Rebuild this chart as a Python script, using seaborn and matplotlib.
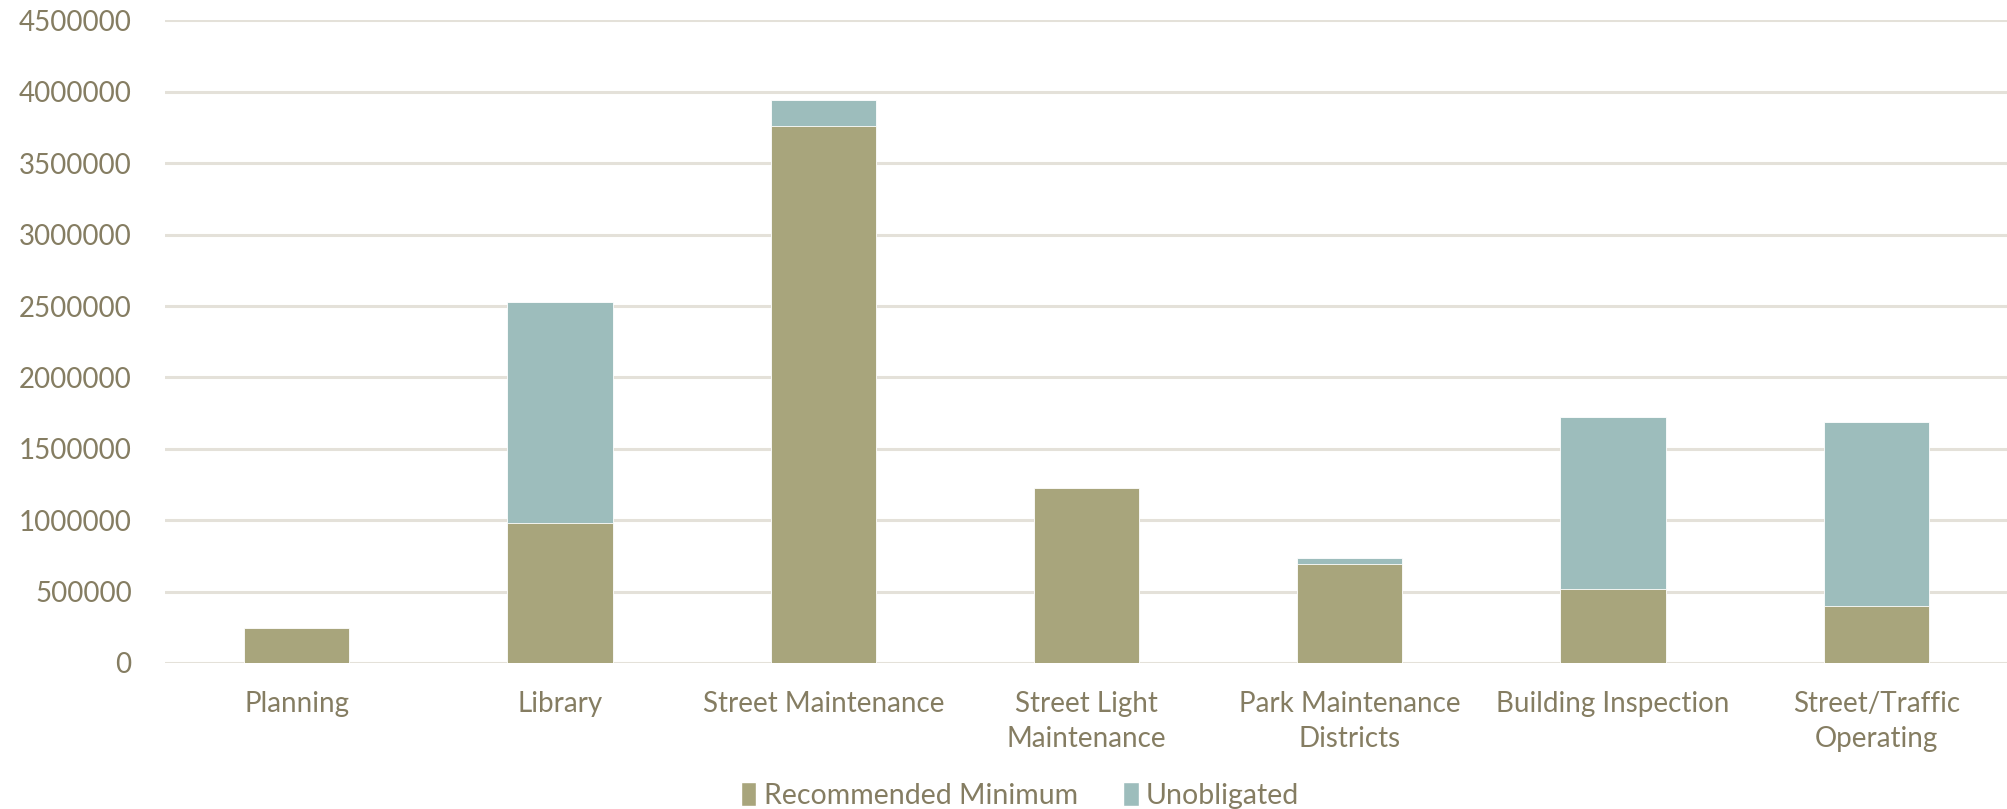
import numpy as np
import pandas as pd
import matplotlib
matplotlib.use("Agg")
import matplotlib.pyplot as plt
import seaborn as sns
from matplotlib.patches import Patch
from matplotlib.ticker import FuncFormatter

# valores
categorias = ["Planning", "Library", "Street Maintenance", "Street Light\nMaintenance",
              "Park Maintenance\nDistricts", "Building Inspection", "Street/Traffic\nOperating"]
recomendado = [244000, 978000, 3762000, 1226000, 693000, 519000, 400000]
nao_obrigado = [0, 1547000, 178000, 0, 40000, 1203000, 1285000]
y_ticks = [0, 500000, 1000000, 1500000, 2000000, 2500000, 3000000, 3500000, 4000000, 4500000]

COR_REC = "#a8a57c"
COR_UNOB = "#9dbdbc"
COR_TEXTO = "#857d62"
COR_GRADE = "#e4e1d9"

sns.set_theme(style="white")
plt.rcParams["font.family"] = ["Lato", "DejaVu Sans"]

df = pd.DataFrame({
    "categoria": categorias,
    "rec": recomendado,
    "total": np.array(recomendado) + np.array(nao_obrigado),
})

fig = plt.figure(figsize=(20.08, 8.09), dpi=100)
ax = fig.add_axes([0.0822, 0.1805, 0.9178, 0.7942])

# total em azul, recomendado por cima
sns.barplot(data=df, x="categoria", y="total", color=COR_UNOB, width=0.4,
            saturation=1, ax=ax, edgecolor="white", linewidth=0.6, zorder=3)
sns.barplot(data=df, x="categoria", y="rec", color=COR_REC, width=0.4,
            saturation=1, ax=ax, edgecolor="white", linewidth=0.6, zorder=4)

ax.set_ylim(0, 4500000)
ax.set_xlim(-0.5, len(categorias) - 0.5)
ax.set_yticks(y_ticks)
ax.yaxis.set_major_formatter(FuncFormatter(lambda v, p: f"{int(v)}"))
ax.grid(axis="y", color=COR_GRADE, linewidth=2.2, zorder=0)
ax.set_axisbelow(True)
for s in ax.spines.values():
    s.set_visible(False)

ax.set_xlabel("")
ax.set_ylabel("")
ax.tick_params(axis="both", length=0, colors=COR_TEXTO, labelsize=20)
ax.tick_params(axis="y", pad=24)
ax.tick_params(axis="x", pad=20)
for lbl in ax.get_xticklabels():
    lbl.set_linespacing(1.45)

handles = [Patch(facecolor=COR_REC, label="Recommended Minimum"),
           Patch(facecolor=COR_UNOB, label="Unobligated")]
fig.legend(handles=handles, loc="center", bbox_to_anchor=(0.508, 0.017), ncol=2,
           frameon=False, fontsize=20.5, labelcolor=COR_TEXTO, handlelength=0.55,
           handleheight=0.95, handletextpad=0.25, columnspacing=1.6)

fig.savefig("out.png", dpi=100)
